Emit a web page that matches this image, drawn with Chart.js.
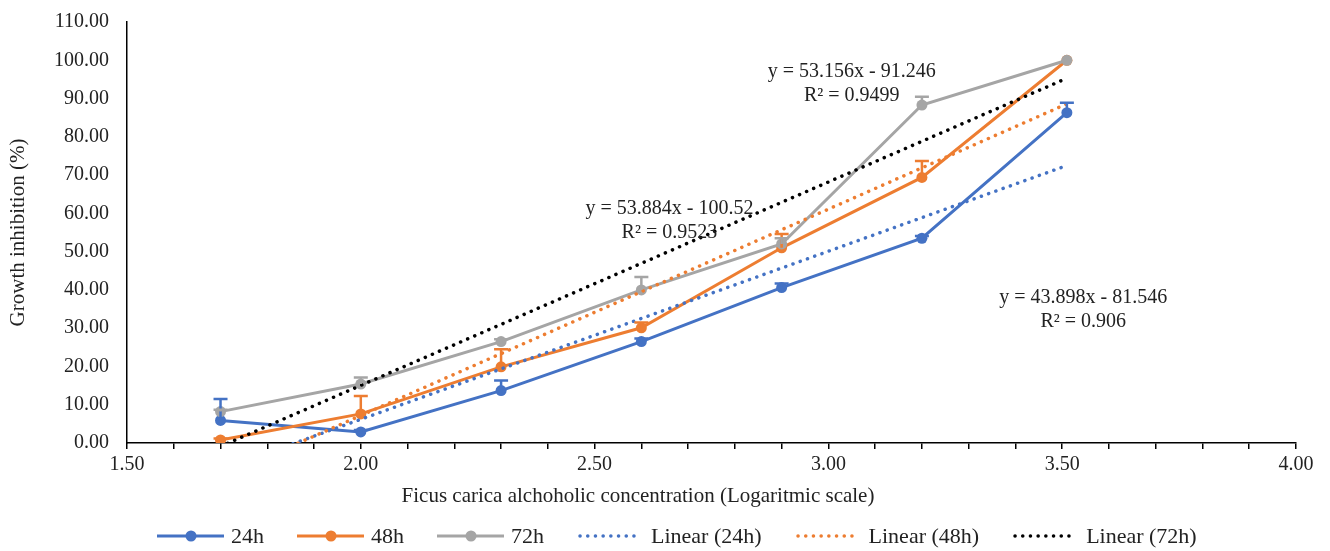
<!DOCTYPE html>
<html><head><meta charset="utf-8">
<title>Growth inhibition</title>
<script src="https://cdn.jsdelivr.net/npm/chart.js@4.4.7/dist/chart.umd.min.js"></script>
<style>
html,body{margin:0;padding:0;background:#fff}
#wrap{position:relative;width:1330px;height:551px}
#legend{position:absolute;left:157px;top:524px;height:24px;display:flex;align-items:center;font-family:"Liberation Serif",serif;font-size:22px;color:#222;white-space:nowrap}
#legend .item{display:flex;align-items:center;margin-right:33px}
#legend svg{margin-right:7px}
</style></head><body>
<div id="wrap">
<canvas id="chart" width="1330" height="551"></canvas>
<div id="legend"></div>
</div>
<script>
// log10 concentration
var X = [1.70, 2.00, 2.30, 2.60, 2.90, 3.20, 3.51];
// growth inhibition (%)
var H24 = [5.9, 2.9, 13.7, 26.5, 40.6, 53.5, 86.3];
var H48 = [0.8, 7.6, 19.9, 30.1, 51.0, 69.4, 100.0];
var H72 = [8.2, 15.4, 26.5, 40.0, 52.0, 88.3, 100.0];
// upper error bars
var E24 = [5.6, 0.5, 2.6, 0.8, 1.1, 0.6, 2.6];
var E48 = [0.4, 4.7, 4.6, 1.4, 3.6, 4.3, 0.0];
var E72 = [0.5, 1.7, 0.6, 3.4, 1.5, 2.2, 0.0];
// trendline end points
var T24 = [{x:1.70, y:-7.0}, {x:3.51, y:72.5}];
var T48 = [{x:1.70, y:-9.0}, {x:3.51, y:88.6}];
var T72 = [{x:1.70, y:-0.9}, {x:3.51, y:95.3}];
// equation labels [x, y, text]
var EQS = [
  [3.05, 97.0, 'y = 53.156x - 91.246'], [3.05, 90.8, 'R² = 0.9499'],
  [2.66, 61.1, 'y = 53.884x - 100.52'], [2.66, 54.9, 'R² = 0.9523'],
  [3.545, 38.0, 'y = 43.898x - 81.546'], [3.545, 31.8, 'R² = 0.906']
];

var BLUE = '#4472C4', ORANGE = '#ED7D31', GREY = '#A5A5A5', BLACK = '#000000';
var FONT = '"Liberation Serif", "Times New Roman", serif';

function pts(ys) {
  return X.map(function(x, i) { return {x: x, y: ys[i]}; });
}

function series(label, ys, errs, color, ord) {
  return {label: label, data: pts(ys), errs: errs, borderColor: color, backgroundColor: color,
    borderWidth: 3, pointRadius: 5.5, pointHoverRadius: 5.5, pointBorderWidth: 0,
    tension: 0, order: ord};
}
function trend(label, d, color, ord) {
  return {label: label, data: d, borderColor: color, backgroundColor: color, borderWidth: 3.5,
    borderDash: [0.1, 7.6], borderCapStyle: 'round', pointRadius: 0, tension: 0, order: ord};
}

var errPlugin = {
  id: 'errbars',
  afterDatasetsDraw: function(chart) {
    var ctx = chart.ctx, xs = chart.scales.x, ys = chart.scales.y;
    chart.data.datasets.forEach(function(ds) {
      if (!ds.errs) return;
      ctx.save();
      ctx.strokeStyle = ds.borderColor;
      ctx.lineWidth = 2.5;
      ds.data.forEach(function(p, i) {
        var e = ds.errs[i];
        if (!e) return;
        var px = xs.getPixelForValue(p.x);
        var py0 = ys.getPixelForValue(p.y);
        var py1 = ys.getPixelForValue(p.y + e);
        ctx.beginPath();
        ctx.moveTo(px, py0); ctx.lineTo(px, py1);
        ctx.moveTo(px - 7, py1); ctx.lineTo(px + 7, py1);
        ctx.stroke();
      });
      ctx.restore();
    });
  }
};

var textPlugin = {
  id: 'texts',
  afterDraw: function(chart) {
    var ctx = chart.ctx, xs = chart.scales.x, ys = chart.scales.y;
    ctx.save();
    ctx.fillStyle = '#222';
    ctx.font = '20px ' + FONT;
    ctx.textAlign = 'center';
    ctx.textBaseline = 'middle';
    EQS.forEach(function(q) {
      ctx.fillText(q[2], xs.getPixelForValue(q[0]), ys.getPixelForValue(q[1]));
    });
    ctx.font = '21px ' + FONT;
    ctx.fillText('Ficus carica alchoholic concentration (Logaritmic scale)', 638, 496);
    ctx.translate(18, (chart.chartArea.top + chart.chartArea.bottom) / 2);
    ctx.rotate(-Math.PI / 2);
    ctx.fillText('Growth inhibition (%)', 0, 0);
    ctx.restore();
  }
};

var datasets = [
  series('24h', H24, E24, BLUE, 5),
  series('48h', H48, E48, ORANGE, 4),
  series('72h', H72, E72, GREY, 3),
  trend('Linear (24h)', T24, BLUE, 2),
  trend('Linear (48h)', T48, ORANGE, 1),
  trend('Linear (72h)', T72, BLACK, 0)
];

new Chart(document.getElementById('chart').getContext('2d'), {
  type: 'line',
  data: {datasets: datasets},
  plugins: [errPlugin, textPlugin],
  options: {
    responsive: false, animation: false, devicePixelRatio: 1,
    layout: {padding: {top: 18, right: 34, left: 0, bottom: 0}},
    plugins: {legend: {display: false}, tooltip: {enabled: false}},
    scales: {
      x: {
        type: 'linear', min: 1.5, max: 4.0,
        afterFit: function(s) { s.height = 108; },
        grid: {display: true, drawOnChartArea: false, drawTicks: true, tickLength: 6, color: '#000', lineWidth: 1.5},
        border: {display: true, color: '#000', width: 1.5},
        ticks: {stepSize: 0.1, autoSkip: false, maxRotation: 0, padding: 4, color: '#222',
          font: {family: FONT, size: 20},
          callback: function(v) {
            var d = v * 2;
            return Math.abs(d - Math.round(d)) < 1e-6 ? Number(v).toFixed(2) : '';
          }}
      },
      y: {
        min: 0, max: 110,
        afterFit: function(s) { s.width = 127; },
        grid: {display: false},
        border: {display: true, color: '#000', width: 1.5},
        ticks: {stepSize: 10, padding: 10, color: '#222', font: {family: FONT, size: 20},
          callback: function(v) { return Number(v).toFixed(2); }}
      }
    }
  }
});

// legend
var lg = document.getElementById('legend');
datasets.forEach(function(ds) {
  var svg = '<svg width="67" height="14">';
  if (ds.errs) {
    svg += '<line x1="0" y1="7" x2="67" y2="7" stroke="' + ds.borderColor + '" stroke-width="3"/>' +
      '<circle cx="34" cy="7" r="5.5" fill="' + ds.borderColor + '"/>';
  } else {
    svg += '<line x1="3" y1="7" x2="64" y2="7" stroke="' + ds.borderColor + '" stroke-width="3.5" stroke-linecap="round" stroke-dasharray="0.1 7.6"/>';
  }
  svg += '</svg>';
  lg.innerHTML += '<div class="item">' + svg + '<span>' + ds.label + '</span></div>';
});
</script>
</body></html>
